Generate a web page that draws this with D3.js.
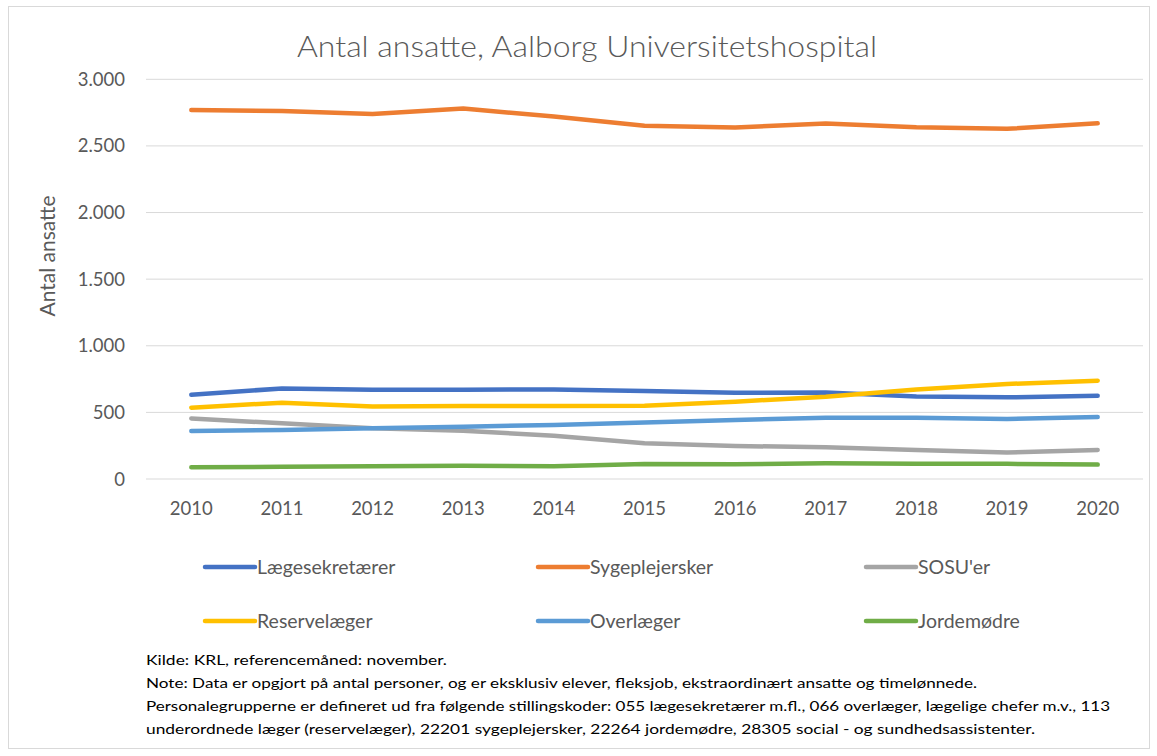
<!DOCTYPE html>
<html><head><meta charset="utf-8">
<script src="https://cdn.jsdelivr.net/npm/d3@7"></script>
<style>body{margin:0;background:#fff}svg{display:block}text{font-family:Lato,"Open Sans",sans-serif;fill:#595959}</style>
</head><body>
<script>
const years = ["2010","2011","2012","2013","2014","2015","2016","2017","2018","2019","2020"];
const seriesNames = ["Lægesekretærer","Sygeplejersker","SOSU'er","Reservelæger","Overlæger","Jordemødre"];
const seriesColors = ["#4472C4","#ED7D31","#A5A5A5","#FFC000","#5B9BD5","#70AD47"];
const laegesekretaerer = [632,680,670,670,672,660,647,650,620,613,625];
const sygeplejersker = [2770,2762,2740,2780,2720,2652,2638,2668,2640,2628,2670];
const sosuer = [455,418,380,363,325,268,248,238,218,198,218];
const reservelaeger = [535,573,545,548,548,550,580,618,672,713,738];
const overlaeger = [360,368,380,393,405,425,443,460,460,450,465];
const jordemoedre = [88,92,95,100,95,112,110,118,114,114,108];
const yTicks = [0,500,1000,1500,2000,2500,3000];
const yTickLabels = ["0","500","1.000","1.500","2.000","2.500","3.000"];
const title = "Antal ansatte, Aalborg Universitetshospital";
const yTitle = "Antal ansatte";
const notes = [
 "Kilde: KRL, referencemåned: november.",
 "Note: Data er opgjort på antal personer, og er eksklusiv elever, fleksjob, ekstraordinært ansatte og timelønnede.",
 "Personalegrupperne er defineret ud fra følgende stillingskoder: 055 lægesekretærer m.fl., 066 overlæger, lægelige chefer m.v., 113",
 "underordnede læger (reservelæger), 22201 sygeplejersker, 22264 jordemødre, 28305 social - og sundhedsassistenter."
];
const allValues = [laegesekretaerer,sygeplejersker,sosuer,reservelaeger,overlaeger,jordemoedre];

const W=1157,H=756;
const svg=d3.select("body").append("svg").attr("width",W).attr("height",H);
svg.append("rect").attr("x",8.5).attr("y",6.5).attr("width",1141).attr("height",742).attr("fill","#fff").attr("stroke","#d9d9d9");

const x=d3.scaleBand().domain(years).range([146,1143]);
const y=d3.scaleLinear().domain([0,3000]).range([479,79.3]);

svg.append("text").attr("x",297).attr("y",57).attr("font-size",29).attr("font-weight",300)
  .attr("textLength",580).attr("lengthAdjust","spacingAndGlyphs").text(title);

const g=svg.append("g");
yTicks.forEach((t,i)=>{
  g.append("line").attr("x1",146).attr("x2",1143).attr("y1",y(t)).attr("y2",y(t)).attr("stroke","#d9d9d9").attr("stroke-width",1);
  g.append("text").attr("x",125).attr("y",y(t)+6.5).attr("text-anchor","end").attr("font-size",18.5).text(yTickLabels[i]);
});
years.forEach(yr=>{
  g.append("text").attr("x",x(yr)+x.bandwidth()/2).attr("y",515).attr("text-anchor","middle").attr("font-size",18.5).text(yr);
});
svg.append("text").attr("transform","translate(55,256) rotate(-90)").attr("text-anchor","middle").attr("font-size",21).text(yTitle);

const line=d3.line().x((d,i)=>x(years[i])+x.bandwidth()/2).y(d=>y(d));
allValues.forEach((vals,k)=>{
  svg.append("path").attr("d",line(vals)).attr("fill","none").attr("stroke",seriesColors[k]).attr("stroke-width",4.5).attr("stroke-linecap","round").attr("stroke-linejoin","round");
});

const legX=[205,538,866], legY=[567,621];
seriesNames.forEach((n,k)=>{
  const lx=legX[k%3], ly=legY[Math.floor(k/3)];
  svg.append("line").attr("x1",lx).attr("x2",lx+50).attr("y1",ly).attr("y2",ly).attr("stroke",seriesColors[k]).attr("stroke-width",4.5).attr("stroke-linecap","round");
  svg.append("text").attr("x",lx+52).attr("y",ly+7).attr("font-size",19.5).text(n);
});

const noteEnds=[447,977,1110,1035];
notes.forEach((t,i)=>{
  svg.append("text").attr("x",146).attr("y",665+i*23).attr("font-size",14).attr("textLength",noteEnds[i]-146).attr("lengthAdjust","spacingAndGlyphs").style("fill","#000").text(t);
});
</script>
</body></html>
